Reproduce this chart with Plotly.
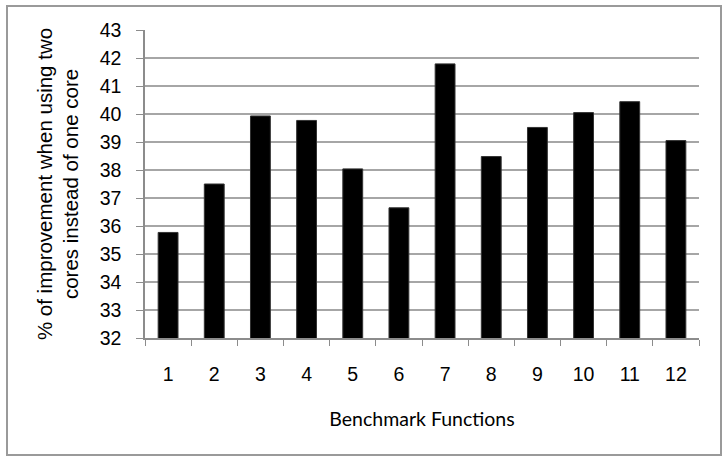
import plotly.graph_objects as go

categories = [str(i) for i in range(1, 13)]
improvement = [35.77, 37.5, 39.93, 39.77, 38.04, 36.65, 41.79, 38.48, 39.52, 40.05, 40.44, 39.05]
y_ticks = list(range(32, 44))

W, H = 723, 456
ml, mr, mt, mb = 145, 24, 30, 118

fig = go.Figure(go.Bar(
    x=categories, y=improvement,
    marker=dict(color="black", line=dict(color="#333333", width=1)),
    width=0.43,
))

fig.update_layout(
    width=W, height=H,
    margin=dict(l=ml, r=mr, t=mt, b=mb),
    paper_bgcolor="white", plot_bgcolor="white",
    showlegend=False,
    font=dict(family="Liberation Sans, Arial", color="black", size=18),
    xaxis=dict(
        type="category", tickson="boundaries", ticks="outside", ticklen=6,
        tickcolor="#8c8c8c", showline=True, linecolor="#8c8c8c", linewidth=1.5,
        showgrid=False, tickfont=dict(size=19.5), ticklabelstandoff=18,
        title=dict(text="Benchmark Functions", font=dict(family="Lato, Open Sans", size=19.5), standoff=28),
    ),
    yaxis=dict(
        range=[32, 43], tickvals=y_ticks, ticks="outside", ticklen=7,
        tickcolor="#8c8c8c", showline=True, linecolor="#8c8c8c", linewidth=1.5,
        showgrid=True, gridcolor="#a6a6a6", gridwidth=1.5,
        tickfont=dict(size=19.5), zeroline=False, ticklabelstandoff=11,
        title=dict(text="% of improvement when using two<br>cores instead of one core",
                   font=dict(size=20.5), standoff=15),
    ),
)

pw = W - ml - mr
ph = H - mt - mb
fig.add_shape(type="rect", xref="paper", yref="paper",
              x0=(7 - ml) / pw, x1=(721 - ml) / pw,
              y0=-(455 - mt - ph) / ph, y1=1 + (mt - 6) / ph,
              line=dict(color="#9a9a9a", width=2), layer="below")

fig.write_html("out.html")
